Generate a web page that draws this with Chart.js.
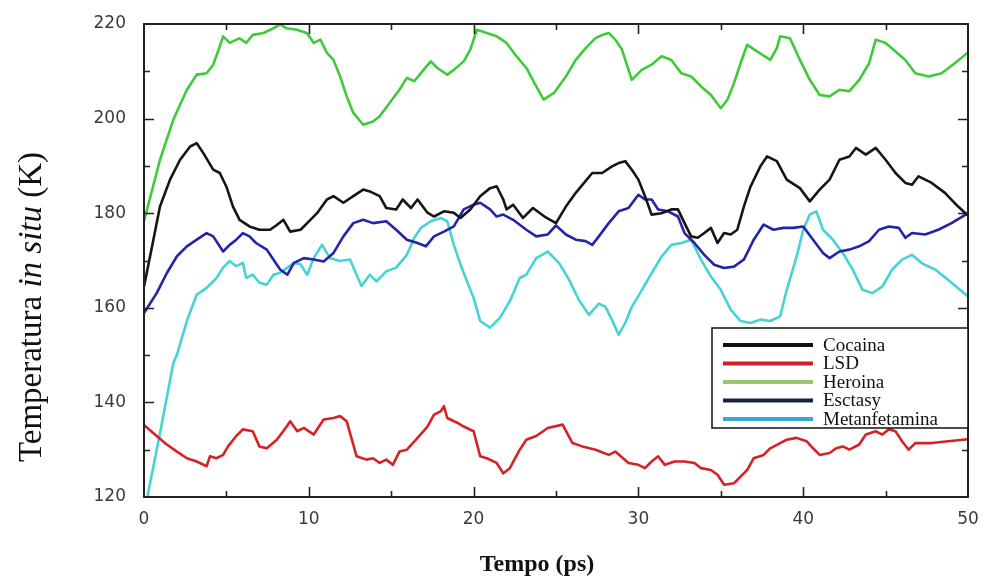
<!DOCTYPE html>
<html>
<head>
<meta charset="utf-8">
<script src="https://cdn.jsdelivr.net/npm/chart.js@4.4.0/dist/chart.umd.min.js"></script>
<style>
  html, body { margin: 0; padding: 0; background: #fff; }
</style>
</head>
<body>
<canvas id="chartTemp" width="983" height="576"></canvas>
<script>
// Tempo (ps) / Temperatura (K) por droga
const tCocaina = [0, 0.57, 0.97, 1.58, 2.19, 2.8, 3.2, 3.6, 4.2, 4.6, 5.0, 5.4, 5.8, 6.4, 7.0, 7.65, 8.06, 8.46, 8.87, 9.5, 9.9, 10.5, 11.1, 11.5, 12.1, 12.7, 13.3, 13.7, 14.3, 14.7, 15.3, 15.7, 16.2, 16.6, 17.2, 17.6, 18.2, 18.8, 19.2, 19.8, 20.4, 21.0, 21.4, 21.8, 22.0, 22.4, 23.0, 23.6, 24.3, 25.0, 25.6, 26.2, 26.6, 27.2, 27.8, 28.4, 28.8, 29.2, 29.6, 30.0, 30.4, 30.8, 31.4, 32.0, 32.4, 32.8, 33.2, 33.6, 34.0, 34.4, 34.8, 35.2, 35.6, 36.0, 36.4, 36.8, 37.4, 37.8, 38.4, 39.0, 39.8, 40.4, 41.0, 41.6, 42.2, 42.8, 43.2, 43.8, 44.4, 45.0, 45.6, 46.2, 46.6, 47.0, 47.8, 48.6, 49.4, 50];
const kCocaina = [164.5, 174.4, 181.4, 187.1, 191.3, 194.1, 194.8, 192.7, 189.2, 188.5, 185.6, 181.4, 178.6, 177.2, 176.5, 176.5, 177.5, 178.6, 176.1, 176.5, 177.9, 180, 182.9, 183.6, 182.2, 183.6, 185, 184.6, 183.6, 181.1, 180.8, 182.9, 181.1, 182.9, 180.1, 179.3, 180.4, 180.1, 179, 180.8, 183.6, 185.3, 185.7, 182.9, 180.8, 181.8, 179, 181.1, 179.3, 177.9, 181.4, 184.3, 186, 188.5, 188.5, 189.9, 190.6, 191, 189.2, 187.1, 183.6, 179.7, 180, 180.8, 180.8, 177.9, 175.1, 174.8, 175.8, 176.9, 173.7, 175.8, 175.5, 176.5, 181.4, 185.6, 189.9, 192, 191, 187.1, 185.3, 182.5, 185, 187.1, 191.3, 192, 193.8, 192.4, 193.8, 191.3, 188.5, 186.4, 186, 187.8, 186.4, 184.3, 181.4, 179.5];

const tLSD = [0, 0.77, 1.38, 2.0, 2.6, 3.2, 3.8, 4.0, 4.4, 4.8, 5.1, 5.6, 6.0, 6.6, 7.0, 7.45, 8.06, 8.66, 8.87, 9.3, 9.7, 10.3, 10.9, 11.5, 11.9, 12.3, 12.9, 13.5, 13.9, 14.3, 14.7, 15.1, 15.5, 15.95, 16.6, 17.2, 17.6, 18.0, 18.2, 18.4, 19.0, 19.4, 20.0, 20.4, 20.8, 21.4, 21.8, 22.2, 22.8, 23.2, 23.8, 24.5, 25.4, 26.0, 26.6, 27.4, 28.2, 28.6, 29.4, 30.0, 30.4, 30.8, 31.2, 31.6, 32.2, 32.8, 33.4, 33.8, 34.4, 34.8, 35.2, 35.8, 36.2, 36.6, 37.0, 37.6, 38.0, 38.6, 39.0, 39.6, 40.2, 40.6, 41.0, 41.6, 42.0, 42.4, 42.8, 43.4, 43.8, 44.4, 44.8, 45.2, 45.6, 46.0, 46.4, 46.8, 47.8, 48.8, 50];
const kLSD = [135.2, 132.9, 131.1, 129.6, 128.2, 127.5, 126.5, 128.6, 128.2, 128.9, 130.7, 132.9, 134.3, 133.9, 130.7, 130.3, 132.1, 134.9, 136, 133.9, 134.6, 133.2, 136.4, 136.7, 137.1, 136, 128.6, 127.9, 128.2, 127.2, 127.9, 126.8, 129.6, 130, 132.5, 134.9, 137.4, 138.1, 139.2, 136.7, 135.7, 134.9, 133.9, 128.6, 128.2, 127.2, 125, 126.1, 130, 132.1, 132.9, 134.6, 135.3, 131.4, 130.7, 130, 128.9, 129.6, 127.2, 126.8, 126.1, 127.5, 128.6, 126.8, 127.5, 127.5, 127.2, 126.1, 125.7, 124.7, 122.6, 122.9, 124.3, 125.7, 128.2, 128.9, 130.3, 131.4, 132.1, 132.5, 131.8, 130.3, 128.9, 129.3, 130.3, 130.7, 130, 131.1, 133.2, 133.9, 133.2, 134.3, 133.9, 131.8, 130, 131.4, 131.4, 131.8, 132.2];

const tHeroina = [0, 0.97, 1.78, 2.6, 3.2, 3.8, 4.2, 4.6, 4.8, 5.2, 5.8, 6.2, 6.6, 7.25, 7.85, 8.26, 8.66, 9.27, 9.88, 10.3, 10.7, 11.1, 11.5, 11.9, 12.3, 12.7, 13.3, 13.9, 14.3, 14.9, 15.5, 15.95, 16.4, 16.8, 17.4, 17.8, 18.4, 18.8, 19.4, 19.8, 20.2, 20.8, 21.4, 22.0, 22.6, 23.2, 23.8, 24.25, 24.9, 25.6, 26.2, 26.8, 27.4, 27.8, 28.2, 28.6, 29.0, 29.6, 30.2, 30.8, 31.4, 32.0, 32.6, 33.2, 33.8, 34.4, 35.0, 35.4, 35.8, 36.2, 36.6, 37.2, 38.0, 38.4, 38.6, 39.2, 39.8, 40.4, 41.0, 41.6, 42.2, 42.8, 43.4, 44.0, 44.4, 45.0, 45.6, 46.2, 46.8, 47.6, 48.4, 49.2, 50];
const kHeroina = [178.3, 191.3, 199.8, 206.1, 209.3, 209.6, 211.4, 215.3, 217.4, 216, 217, 216, 217.7, 218.1, 219.1, 219.9, 219.1, 218.8, 218.1, 216, 216.7, 213.9, 212.4, 208.9, 204.7, 201.2, 198.7, 199.4, 200.5, 203.3, 206.1, 208.6, 207.9, 209.6, 212.1, 210.7, 209.3, 210.3, 212.1, 214.6, 218.8, 218.1, 217.4, 216, 213.2, 210.7, 206.8, 204, 205.5, 208.9, 212.4, 214.9, 217, 217.7, 218.1, 216.7, 214.6, 208.2, 210.3, 211.4, 213.2, 212.4, 209.6, 208.9, 206.8, 205, 202.2, 204, 207.5, 211.7, 215.6, 214.2, 212.4, 214.9, 217.4, 217, 212.4, 208.2, 205, 204.7, 206.1, 205.8, 208.2, 211.7, 216.7, 216, 214.2, 212.4, 209.6, 208.9, 209.6, 211.7, 214];

const tEsctasy = [0, 0.77, 1.38, 2.0, 2.6, 3.2, 3.8, 4.2, 4.8, 5.2, 5.6, 6.0, 6.4, 6.8, 7.45, 7.85, 8.26, 8.7, 9.1, 9.7, 10.3, 10.9, 11.5, 12.1, 12.7, 13.3, 13.9, 14.7, 15.3, 15.95, 16.6, 17.1, 17.6, 18.2, 18.8, 19.4, 20.0, 20.4, 21.0, 21.4, 21.8, 22.4, 23.2, 23.8, 24.5, 25.0, 25.6, 26.2, 26.8, 27.2, 27.6, 28.2, 28.8, 29.4, 30.0, 30.4, 30.8, 31.2, 31.8, 32.4, 32.8, 33.4, 34.0, 34.6, 35.2, 35.8, 36.4, 37.0, 37.6, 38.2, 38.8, 39.4, 40.0, 40.6, 41.2, 41.6, 42.2, 42.8, 43.4, 44.0, 44.6, 45.2, 45.8, 46.2, 46.6, 47.4, 48.2, 49.0, 50];
const kEsctasy = [158.9, 163.1, 167.3, 170.9, 173, 174.4, 175.8, 175.1, 171.9, 173.3, 174.4, 175.8, 175.1, 173.7, 172.3, 170.2, 168.1, 167, 169.5, 170.5, 170.2, 169.8, 171.6, 175.1, 177.9, 178.6, 177.9, 178.3, 176.5, 174.4, 173.7, 173, 175.1, 176.1, 177.2, 180.8, 181.8, 182.2, 180.8, 179.3, 179.7, 178.6, 176.5, 175.1, 175.5, 177.4, 175.5, 174.4, 174.1, 173.3, 175.1, 177.9, 180.4, 181.1, 183.9, 182.9, 182.9, 180.8, 180.4, 179.3, 175.8, 173.7, 171.2, 169.1, 168.4, 168.7, 170.2, 174.4, 177.6, 176.5, 176.9, 176.9, 177.2, 174.4, 171.6, 170.5, 171.9, 172.3, 173, 174.1, 176.5, 177.2, 176.9, 174.8, 175.8, 175.5, 176.5, 177.9, 180];

const tMetanfetamina = [0.2, 0.97, 1.78, 2.0, 2.6, 3.2, 3.8, 4.4, 4.8, 5.2, 5.6, 6.0, 6.2, 6.6, 7.0, 7.45, 7.85, 8.26, 8.7, 9.1, 9.5, 9.9, 10.3, 10.8, 11.3, 11.9, 12.5, 12.9, 13.2, 13.7, 14.1, 14.7, 15.3, 15.95, 16.4, 16.8, 17.4, 18.0, 18.4, 18.8, 19.2, 19.6, 20.0, 20.4, 21.0, 21.6, 22.2, 22.8, 23.2, 23.8, 24.5, 25.2, 25.8, 26.4, 27.0, 27.6, 28.0, 28.4, 28.8, 29.2, 29.6, 30.2, 30.8, 31.4, 32.0, 32.6, 33.2, 33.8, 34.4, 35.0, 35.6, 36.2, 36.8, 37.4, 38.0, 38.6, 39.0, 39.6, 40.0, 40.4, 40.8, 41.2, 41.8, 42.4, 43.0, 43.6, 44.2, 44.8, 45.4, 46.0, 46.6, 47.2, 48.0, 48.8, 50];
const kMetanfetamina = [120, 133.5, 148.3, 150.1, 157.2, 162.8, 164.2, 166.3, 168.5, 169.9, 168.8, 169.5, 166.3, 167, 165.3, 164.9, 167, 167.4, 168.5, 169.5, 169.2, 167, 170.5, 173.3, 170.5, 169.9, 170.2, 167, 164.6, 167, 165.6, 167.7, 168.5, 171.2, 174.8, 176.9, 178.3, 179, 178.3, 173.3, 169.2, 165.6, 162.1, 157.2, 155.8, 157.9, 161.4, 166.3, 167, 170.5, 171.9, 169.4, 165.9, 161.6, 158.5, 160.9, 160.2, 157.4, 154.3, 156.8, 160.2, 163.7, 167.3, 170.8, 173.3, 173.7, 174.4, 170.2, 166.6, 163.8, 159.6, 157.2, 156.8, 157.5, 157.2, 158.2, 163.8, 170.8, 176.5, 179.7, 180.4, 176.5, 174.4, 171.6, 168.1, 163.8, 163.1, 164.5, 168.1, 170.2, 171.2, 169.4, 168.1, 165.9, 162.4];

const seriesNames = ['Cocaina', 'LSD', 'Heroina', 'Esctasy', 'Metanfetamina'];
const lineColors = ['#151515', '#d42328', '#3ecb3a', '#2424a6', '#46d3d6'];
const legendColors = ['#111111', '#d21f26', '#9cc46c', '#16223c', '#3aa6d3'];

const xTicks = [0, 10, 20, 30, 40, 50];
const yTicks = [120, 140, 160, 180, 200, 220];

function pairs(t, k) {
  return t.map((x, i) => ({ x: x, y: k[i] }));
}

const allT = [tCocaina, tLSD, tHeroina, tEsctasy, tMetanfetamina];
const allK = [kCocaina, kLSD, kHeroina, kEsctasy, kMetanfetamina];

const datasets = seriesNames.map((name, i) => ({
  label: name,
  data: pairs(allT[i], allK[i]),
  borderColor: lineColors[i],
  borderWidth: 2.6,
  pointRadius: 0,
  tension: 0,
  borderJoinStyle: 'round',
  fill: false
}));

// frame, inward ticks, axis titles and the boxed legend
const decor = {
  id: 'decor',
  afterDraw(chart) {
    const ctx = chart.ctx;
    const a = chart.chartArea;
    const xs = chart.scales.x;
    const ys = chart.scales.y;
    ctx.save();

    ctx.strokeStyle = '#222';
    ctx.lineWidth = 1.6;
    ctx.lineCap = 'butt';
    for (let v = 5; v < 50; v += 5) {
      const px = Math.round(xs.getPixelForValue(v)) + 0.5;
      const len = v % 10 === 0 ? 10 : 6;
      ctx.beginPath();
      ctx.moveTo(px, a.bottom); ctx.lineTo(px, a.bottom - len);
      ctx.moveTo(px, a.top); ctx.lineTo(px, a.top + len);
      ctx.stroke();
    }
    for (let v = 130; v < 220; v += 10) {
      const py = Math.round(ys.getPixelForValue(v)) + 0.5;
      const len = v % 20 === 0 ? 10 : 6;
      ctx.beginPath();
      ctx.moveTo(a.left, py); ctx.lineTo(a.left + len, py);
      ctx.moveTo(a.right, py); ctx.lineTo(a.right - len, py);
      ctx.stroke();
    }
    ctx.lineWidth = 2;
    ctx.strokeRect(a.left, a.top, a.right - a.left, a.bottom - a.top);

    // legend box
    const lx = 712, ly = 328, lw = a.right - 712, lh = 100;
    ctx.fillStyle = '#fff';
    ctx.fillRect(lx, ly, lw, lh);
    ctx.lineWidth = 1.5;
    ctx.strokeStyle = '#111';
    ctx.strokeRect(lx, ly, lw, lh);
    ctx.font = '19px "Liberation Serif", "Times New Roman", serif';
    ctx.textBaseline = 'middle';
    ctx.textAlign = 'left';
    seriesNames.forEach((name, i) => {
      const yy = ly + 17 + i * 18.5;
      ctx.strokeStyle = legendColors[i];
      ctx.lineWidth = 4;
      ctx.beginPath();
      ctx.moveTo(723, yy); ctx.lineTo(813, yy);
      ctx.stroke();
      ctx.fillStyle = '#111';
      ctx.fillText(name, 823, yy + 1);
    });

    // x title
    ctx.fillStyle = '#111';
    ctx.font = 'bold 24px "Liberation Serif", "Times New Roman", serif';
    ctx.textAlign = 'center';
    ctx.textBaseline = 'alphabetic';
    ctx.fillText('Tempo (ps)', 537, 571);

    // y title with italic "in situ"
    const parts = [
      { s: 'Temperatura ', f: '33px "Liberation Serif", serif' },
      { s: 'in situ', f: 'italic 33px "Liberation Serif", serif' },
      { s: ' (K)', f: '33px "Liberation Serif", serif' }
    ];
    let total = 0;
    parts.forEach(p => { ctx.font = p.f; p.w = ctx.measureText(p.s).width; total += p.w; });
    ctx.translate(41, 307);
    ctx.rotate(-Math.PI / 2);
    ctx.textAlign = 'left';
    let cx = -total / 2;
    parts.forEach(p => { ctx.font = p.f; ctx.fillText(p.s, cx, 0); cx += p.w; });

    ctx.restore();
  }
};

const tickFont = { family: '"DejaVu Sans", Arial, sans-serif', size: 17 };

new Chart(document.getElementById('chartTemp').getContext('2d'), {
  type: 'line',
  data: { datasets: datasets },
  options: {
    responsive: false,
    animation: false,
    layout: { padding: { top: 24, right: 15, left: 0, bottom: 0 } },
    plugins: { legend: { display: false }, tooltip: { enabled: false } },
    scales: {
      x: {
        type: 'linear',
        min: 0,
        max: 50,
        afterBuildTicks: (s) => { s.ticks = xTicks.map(v => ({ value: v })); },
        afterFit: (s) => { s.height = 79; },
        ticks: { font: tickFont, color: '#3a3a3a', padding: 4, maxRotation: 0 },
        grid: { display: false },
        border: { display: false }
      },
      y: {
        min: 120,
        max: 220,
        afterBuildTicks: (s) => { s.ticks = yTicks.map(v => ({ value: v })); },
        afterFit: (s) => { s.width = 144; },
        ticks: { font: tickFont, color: '#3a3a3a', padding: 10 },
        grid: { display: false },
        border: { display: false }
      }
    }
  },
  plugins: [decor]
});
</script>
</body>
</html>
